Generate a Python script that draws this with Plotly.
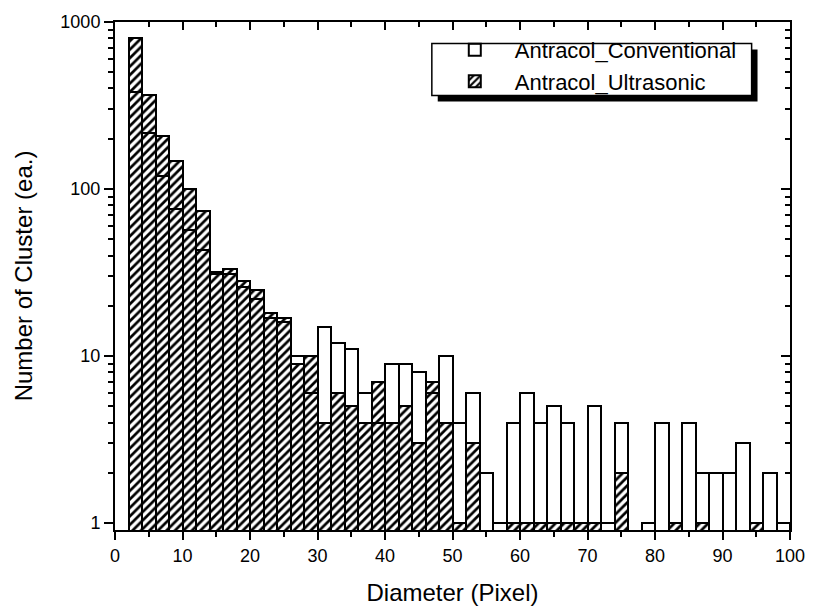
import plotly.graph_objects as go

# ---- data ----
bin_centers = [3 + 2 * i for i in range(49)]  # bins of width 2 from 2 to 100
conventional = [380, 216, 120, 76, 57, 43, 31, 31, 26, 22, 17, 16, 10, 6, 15, 12, 11, 6, 4, 9,
                9, 8, 6, 10, 4, 6, 2, 1, 4, 6, 4, 5, 4, 1, 5, 1, 4, None, 1, 4,
                1, 4, 2, 2, 2, 3, 1, 2, 1]
ultrasonic = [800, 365, 208, 148, 100, 74, 32, 33, 28, 25, 18, 17, 9, 10, 4, 6, 5, 4, 7, 4,
              5, 3, 7, 4, 1, 3, None, None, 1, 1, 1, 1, 1, 1, 1, None, 2, None, None, None,
              1, None, 1, None, None, None, 1, None, None]
x_ticks = [0, 10, 20, 30, 40, 50, 60, 70, 80, 90, 100]
y_ticks = [1, 10, 100, 1000]

FONT = "Liberation Sans"

fig = go.Figure()
fig.add_trace(go.Bar(
    x=bin_centers, y=ultrasonic, width=2, name="Antracol_Ultrasonic", legendrank=2,
    marker=dict(color="white", line=dict(color="black", width=2),
                pattern=dict(shape="/", fillmode="replace", fgcolor="black", bgcolor="white",
                             size=6, solidity=0.45)),
))
fig.add_trace(go.Bar(
    x=bin_centers, y=conventional, width=2, name="Antracol_Conventional", legendrank=1,
    marker=dict(color="rgba(0,0,0,0)", line=dict(color="black", width=2)),
))
# dummy trace to create mirrored axes with inside ticks
fig.add_trace(go.Scatter(x=[None], y=[None], xaxis="x2", yaxis="y2", showlegend=False,
                         hoverinfo="skip", mode="markers"))

L, R, T, B = 115, 16, 16, 80
W, H = 817, 614
pw, ph = W - L - R, H - T - B


def px(xp):
    return (xp - L) / pw


def py(yp):
    return (H - B - yp) / ph


yr = [-0.041, 3.0]
common_x = dict(range=[0, 100], tickvals=x_ticks, showgrid=False, zeroline=False)
common_y = dict(type="log", range=yr, tickvals=y_ticks, showgrid=False, zeroline=False)

fig.update_layout(
    width=W, height=H, margin=dict(l=L, r=R, t=T, b=B),
    paper_bgcolor="white", plot_bgcolor="white",
    barmode="overlay", bargap=0,
    font=dict(family=FONT, color="black"),
    xaxis=dict(**common_x, ticks="outside", ticklen=8, tickwidth=2, tickcolor="black",
               showline=True, linewidth=2, linecolor="black", mirror=True,
               minor=dict(dtick=5, ticks="outside", ticklen=5, tickwidth=2, tickcolor="black"),
               tickfont=dict(size=18),
               title=dict(text="Diameter (Pixel)", font=dict(size=24), standoff=20)),
    yaxis=dict(**common_y, ticks="outside", ticklen=9, tickwidth=2, tickcolor="black",
               showline=True, linewidth=2, linecolor="black", mirror=True,
               minor=dict(dtick="D1", ticks="outside", ticklen=5, tickwidth=2, tickcolor="black"),
               tickfont=dict(size=18),
               title=dict(text="Number of Cluster (ea.)", font=dict(size=24), standoff=21)),
    xaxis2=dict(**common_x, overlaying="x", side="top", ticks="inside", ticklen=8, tickwidth=2,
                tickcolor="black", showticklabels=False, showline=False,
                minor=dict(dtick=5, ticks="inside", ticklen=5, tickwidth=2, tickcolor="black")),
    yaxis2=dict(**common_y, overlaying="y", side="right", ticks="inside", ticklen=9, tickwidth=2,
                tickcolor="black", showticklabels=False, showline=False,
                minor=dict(dtick="D1", ticks="inside", ticklen=5, tickwidth=2, tickcolor="black")),
    legend=dict(x=px(440), y=py(23), xanchor="left", yanchor="top", bgcolor="rgba(0,0,0,0)",
                borderwidth=0, font=dict(size=22, family=FONT), itemwidth=70,
                traceorder="normal"),
    shapes=[
        dict(type="rect", xref="paper", yref="paper", x0=px(443), x1=px(768), y0=py(97), y1=py(44),
             fillcolor="black", line=dict(width=0), layer="above"),
        dict(type="rect", xref="paper", yref="paper", x0=px(437), x1=px(762), y0=py(91), y1=py(38),
             fillcolor="white", line=dict(color="black", width=1.5), layer="above"),
    ],
)

fig.write_html("out.html")
